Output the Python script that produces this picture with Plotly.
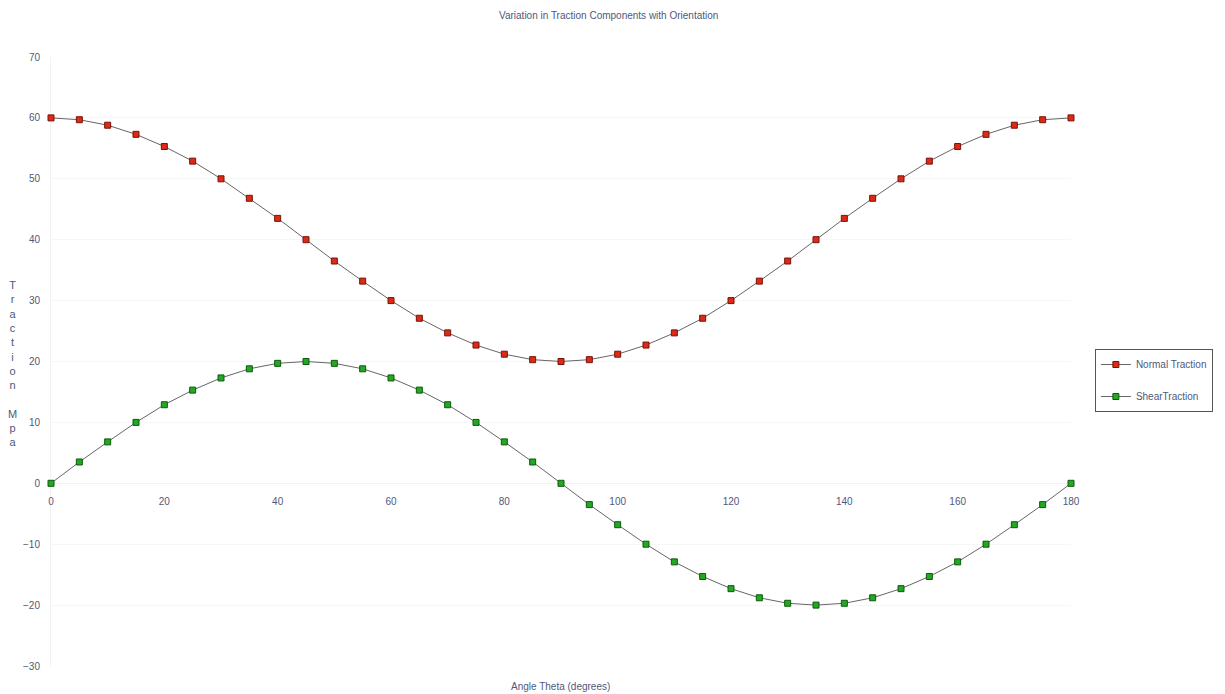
import plotly.graph_objects as go

theta = [0, 5, 10, 15, 20, 25, 30, 35, 40, 45, 50, 55, 60, 65, 70, 75, 80, 85, 90,
         95, 100, 105, 110, 115, 120, 125, 130, 135, 140, 145, 150, 155, 160, 165, 170, 175, 180]
normal_traction = [60.0, 59.7, 58.8, 57.3, 55.3, 52.9, 50.0, 46.8, 43.5, 40.0, 36.5, 33.2, 30.0,
                   27.1, 24.7, 22.7, 21.2, 20.3, 20.0, 20.3, 21.2, 22.7, 24.7, 27.1, 30.0, 33.2,
                   36.5, 40.0, 43.5, 46.8, 50.0, 52.9, 55.3, 57.3, 58.8, 59.7, 60.0]
shear_traction = [0.0, 3.5, 6.8, 10.0, 12.9, 15.3, 17.3, 18.8, 19.7, 20.0, 19.7, 18.8, 17.3,
                  15.3, 12.9, 10.0, 6.8, 3.5, 0.0, -3.5, -6.8, -10.0, -12.9, -15.3, -17.3, -18.8,
                  -19.7, -20.0, -19.7, -18.8, -17.3, -15.3, -12.9, -10.0, -6.8, -3.5, 0.0]
x_ticks = [0, 20, 40, 60, 80, 100, 120, 140, 160, 180]
y_ticks = [-30, -20, -10, 0, 10, 20, 30, 40, 50, 60, 70]

text_color = "#50587a"
font = "Liberation Sans, Arial, sans-serif"

# page body has an 8px margin; figure coordinates are offset by (8, 8)
W, H = 1217, 686
L, T = 43, 49
PW, PH = 1025, 609
R, B = W - L - PW, H - T - PH

fig = go.Figure()
fig.add_trace(go.Scatter(
    x=theta, y=normal_traction, mode="lines+markers", name="Normal Traction",
    legendgroup="n", cliponaxis=False,
    line=dict(color="#666666", width=1),
    marker=dict(symbol="square", size=6, color="#d92b17", line=dict(color="#7a1208", width=1)),
))
fig.add_trace(go.Scatter(
    x=theta, y=shear_traction, mode="lines+markers", name="ShearTraction",
    legendgroup="s", cliponaxis=False,
    line=dict(color="#666666", width=1),
    marker=dict(symbol="square", size=6, color="#22a822", line=dict(color="#0d5a0d", width=1)),
))

fig.update_layout(
    width=W, height=H,
    margin=dict(l=L, r=R, t=T, b=B),
    paper_bgcolor="white", plot_bgcolor="white",
    font=dict(family=font, size=10, color=text_color),
    showlegend=True,
    legend=dict(x=(1092 - L) / PW, y=(T + PH - 372.5) / PH, xanchor="left", yanchor="middle",
                bordercolor="#555555", borderwidth=1, bgcolor="white",
                font=dict(size=10, color=text_color), tracegroupgap=13),
    xaxis=dict(range=[0, 180], tickvals=x_ticks, showgrid=False, zeroline=False,
               anchor="free", position=0.3, showline=True, linecolor="#f2f2f2",
               layer="below traces",
               ticks="outside", ticklen=9, tickcolor="rgba(0,0,0,0)",
               tickfont=dict(size=10, color=text_color)),
    yaxis=dict(range=[-30, 70], tickvals=y_ticks, showgrid=True, gridcolor="#f7f7f7",
               zeroline=False, showline=True, linecolor="#f2f2f2",
               layer="below traces",
               ticks="outside", ticklen=8, tickcolor="rgba(0,0,0,0)",
               tickfont=dict(size=10, color=text_color)),
    annotations=[
        dict(text="Variation in Traction Components with Orientation",
             x=(603 - L) / PW, y=1 + (T - 7) / PH,
             xref="paper", yref="paper", showarrow=False, yanchor="middle",
             font=dict(size=10, color=text_color)),
        dict(text="Angle Theta (degrees)", x=(555 - L) / PW, y=-(678 - (T + PH)) / PH,
             xref="paper", yref="paper", showarrow=False, xanchor="center", yanchor="middle",
             font=dict(size=10, color=text_color)),
        dict(text="<br>".join(list("Traction") + [" "] + list("Mpa")), x=-(L - 4) / PW,
             y=(T + PH - 356) / PH, xref="paper", yref="paper", showarrow=False,
             xanchor="center", yanchor="middle", align="center",
             font=dict(size=11, color=text_color)),
    ],
)

fig.write_html("out.html")
